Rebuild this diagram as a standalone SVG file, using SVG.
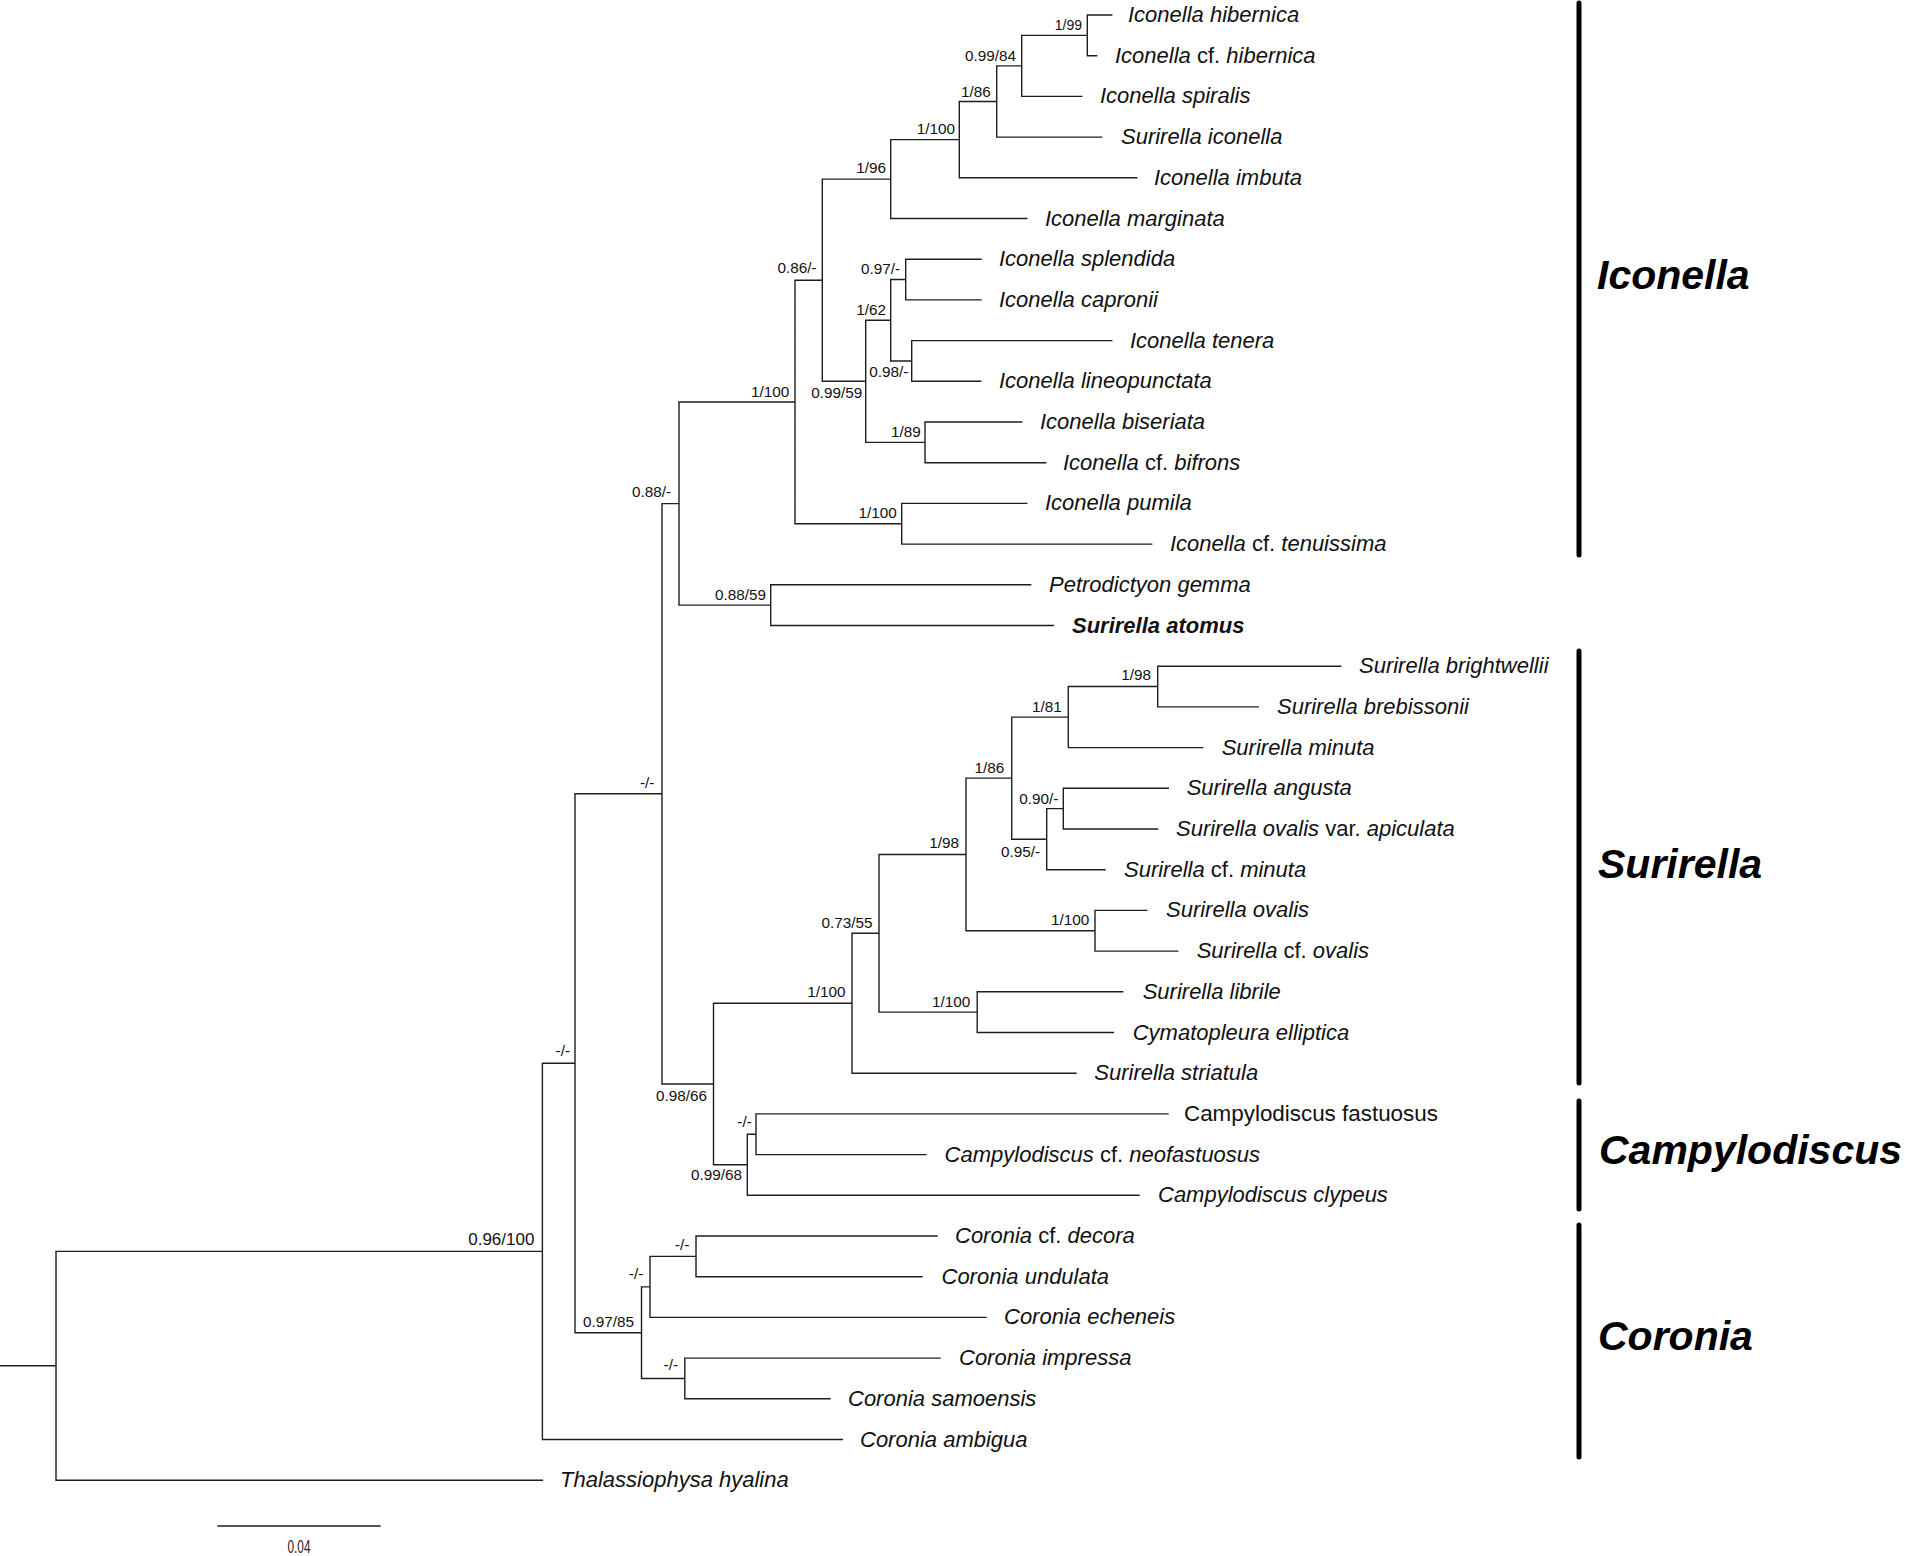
<svg xmlns="http://www.w3.org/2000/svg" width="1905" height="1556" viewBox="0 0 1905 1556">
<style>
.br{stroke:#1e1e1e;stroke-width:1.4;fill:none;stroke-linecap:square}
.lf{font-family:"Liberation Sans",Arial,sans-serif;font-size:22px;font-style:italic;fill:#111}
.lf .up{font-style:normal}
.bd{font-weight:bold}
.sp{font-family:"Liberation Sans",Arial,sans-serif;font-size:15.3px;fill:#111;text-anchor:end}
.cl{font-family:"Liberation Sans",Arial,sans-serif;font-size:41px;font-weight:bold;font-style:italic;fill:#000}
.bar{stroke:#000;stroke-width:5;stroke-linecap:round}
</style>
<rect width="1905" height="1556" fill="#fff"/>
<g id="connectors">
<path class="br" d="M0,1365.8H56 M56,1251.4V1480.2 M56,1251.4H542.4 M56,1480.2H542.4
M542.4,1063.25V1439.5 M542.4,1063.25H575 M542.4,1439.5H842.4
M575,793.8V1332.7 M575,793.8H662 M575,1332.7H641.5
M641.5,1286.9V1378.45 M641.5,1286.9H650 M641.5,1378.45H684.8
M650,1256.35V1317.4 M650,1256.35H696 M650,1317.4H986
M696,1236V1276.7 M696,1236H937 M696,1276.7H922
M684.8,1358.1V1398.8 M684.8,1358.1H940 M684.8,1398.8H830
M662,503.6V1084 M662,503.6H679 M662,1084H713.5
M713.5,1003.25V1164.78 M713.5,1003.25H852 M713.5,1164.78H747.3
M747.3,1134.25V1195.3 M747.3,1134.25H756 M747.3,1195.3H1139
M756,1113.9V1154.6 M756,1113.9H1168 M756,1154.6H926
M852,933.3V1073.2 M852,933.3H879 M852,1073.2H1076
M879,854.45V1012.15 M879,854.45H966 M879,1012.15H977.2
M977.2,991.8V1032.5 M977.2,991.8H1122.7 M977.2,1032.5H1113.3
M966,778.15V930.75 M966,778.15H1011.7 M966,930.75H1095
M1095,910.4V951.1 M1095,910.4H1146.7 M1095,951.1H1177.7
M1011.7,717.1V839.2 M1011.7,717.1H1068.3 M1011.7,839.2H1046.7
M1046.7,808.65V869.7 M1046.7,808.65H1063.3 M1046.7,869.7H1105
M1063.3,788.3V829 M1063.3,788.3H1168.3 M1063.3,829H1157.7
M1068.3,686.55V747.6 M1068.3,686.55H1157.7 M1068.3,747.6H1202.7
M1157.7,666.2V706.9 M1157.7,666.2H1340.7 M1157.7,706.9H1258.3
M679,401.98V605.15 M679,401.98H795 M679,605.15H770.7
M770.7,584.8V625.5 M770.7,584.8H1030.7 M770.7,625.5H1053.3
M795,280.2V523.75 M795,280.2H822.3 M795,523.75H901.7
M901.7,503.4V544.1 M901.7,503.4H1026.7 M901.7,544.1H1151.7
M822.3,179.1V381.3 M822.3,179.1H890.7 M822.3,381.3H865.7
M865.7,320.25V442.35 M865.7,320.25H890.7 M865.7,442.35H925
M925,422V462.7 M925,422H1021.7 M925,462.7H1045.7
M890.7,279.55V360.95 M890.7,279.55H905.7 M890.7,360.95H911.7
M905.7,259.2V299.9 M905.7,259.2H981 M905.7,299.9H981
M911.7,340.6V381.3 M911.7,340.6H1111.7 M911.7,381.3H980.7
M890.7,139.65V218.5 M890.7,139.65H959.3 M890.7,218.5H1026.7
M959.3,101.5V177.8 M959.3,101.5H996.7 M959.3,177.8H1136.7
M996.7,65.9V137.1 M996.7,65.9H1021.7 M996.7,137.1H1101.7
M1021.7,35.35V96.4 M1021.7,35.35H1087.3 M1021.7,96.4H1081.7
M1087.3,15V55.7 M1087.3,15H1111.7 M1087.3,55.7H1096.7"/>
</g>
<g id="support-values">
<text class="sp" x="1082" y="30" style="font-size:14px">1/99</text>
<text class="sp" x="1016" y="61">0.99/84</text>
<text class="sp" x="990.7" y="96.7">1/86</text>
<text class="sp" x="955" y="134">1/100</text>
<text class="sp" x="886" y="172.7">1/96</text>
<text class="sp" x="816.7" y="273.3">0.86/-</text>
<text class="sp" x="900" y="274">0.97/-</text>
<text class="sp" x="886" y="315">1/62</text>
<text class="sp" x="908.3" y="377">0.98/-</text>
<text class="sp" x="789.3" y="396.7">1/100</text>
<text class="sp" x="862.3" y="398.3">0.99/59</text>
<text class="sp" x="920.7" y="436.7">1/89</text>
<text class="sp" x="671" y="497.3">0.88/-</text>
<text class="sp" x="896.7" y="518.3">1/100</text>
<text class="sp" x="766" y="600">0.88/59</text>
<text class="sp" x="1151" y="680">1/98</text>
<text class="sp" x="1061.7" y="711.7">1/81</text>
<text class="sp" x="1004.3" y="773.3">1/86</text>
<text class="sp" x="654.4" y="788.3">-/-</text>
<text class="sp" x="1058.3" y="804">0.90/-</text>
<text class="sp" x="959" y="848.3">1/98</text>
<text class="sp" x="1040" y="856.7">0.95/-</text>
<text class="sp" x="1089.3" y="925">1/100</text>
<text class="sp" x="872.6" y="928.3">0.73/55</text>
<text class="sp" x="845.6" y="997.3">1/100</text>
<text class="sp" x="970.2" y="1006.7">1/100</text>
<text class="sp" x="570" y="1055.5">-/-</text>
<text class="sp" x="707" y="1100.7">0.98/66</text>
<text class="sp" x="751.8" y="1126.7">-/-</text>
<text class="sp" x="742" y="1180">0.99/68</text>
<text class="sp" x="534.4" y="1244.7" style="font-size:17px">0.96/100</text>
<text class="sp" x="689.3" y="1250">-/-</text>
<text class="sp" x="643.3" y="1279.3">-/-</text>
<text class="sp" x="634" y="1327">0.97/85</text>
<text class="sp" x="678" y="1370">-/-</text>
</g>
<g id="leaves">
<g id="leaf-00"><text class="lf" x="1128" y="22">Iconella hibernica</text></g>
<g id="leaf-01"><text class="lf" x="1115" y="62.7">Iconella <tspan class="up">cf.</tspan> hibernica</text></g>
<g id="leaf-02"><text class="lf" x="1100" y="103.4">Iconella spiralis</text></g>
<g id="leaf-03"><text class="lf" x="1121" y="144.1">Surirella iconella</text></g>
<g id="leaf-04"><text class="lf" x="1154" y="184.8">Iconella imbuta</text></g>
<g id="leaf-05"><text class="lf" x="1045" y="225.5">Iconella marginata</text></g>
<g id="leaf-06"><text class="lf" x="999" y="266.2">Iconella splendida</text></g>
<g id="leaf-07"><text class="lf" x="999" y="306.9">Iconella capronii</text></g>
<g id="leaf-08"><text class="lf" x="1130" y="347.6">Iconella tenera</text></g>
<g id="leaf-09"><text class="lf" x="999" y="388.3">Iconella lineopunctata</text></g>
<g id="leaf-10"><text class="lf" x="1040" y="429">Iconella biseriata</text></g>
<g id="leaf-11"><text class="lf" x="1063" y="469.7">Iconella <tspan class="up">cf.</tspan> bifrons</text></g>
<g id="leaf-12"><text class="lf" x="1045" y="510.4">Iconella pumila</text></g>
<g id="leaf-13"><text class="lf" x="1170" y="551.1">Iconella <tspan class="up">cf.</tspan> tenuissima</text></g>
<g id="leaf-14"><text class="lf" x="1049" y="591.8">Petrodictyon gemma</text></g>
<g id="leaf-15"><text class="lf bd" x="1072" y="632.5">Surirella atomus</text></g>
<g id="leaf-16"><text class="lf" x="1359" y="673.2">Surirella brightwellii</text></g>
<g id="leaf-17"><text class="lf" x="1277" y="713.9">Surirella brebissonii</text></g>
<g id="leaf-18"><text class="lf" x="1221.7" y="754.6">Surirella minuta</text></g>
<g id="leaf-19"><text class="lf" x="1186.7" y="795.3">Surirella angusta</text></g>
<g id="leaf-20"><text class="lf" x="1176" y="836">Surirella ovalis <tspan class="up">var.</tspan> apiculata</text></g>
<g id="leaf-21"><text class="lf" x="1124" y="876.7">Surirella <tspan class="up">cf.</tspan> minuta</text></g>
<g id="leaf-22"><text class="lf" x="1166" y="917.4">Surirella ovalis</text></g>
<g id="leaf-23"><text class="lf" x="1196.7" y="958.1">Surirella <tspan class="up">cf.</tspan> ovalis</text></g>
<g id="leaf-24"><text class="lf" x="1142.7" y="998.8">Surirella librile</text></g>
<g id="leaf-25"><text class="lf" x="1132.7" y="1039.5">Cymatopleura elliptica</text></g>
<g id="leaf-26"><text class="lf" x="1094.3" y="1080.2">Surirella striatula</text></g>
<g id="leaf-27"><text class="lf" x="1184" y="1120.9" style="font-style:normal;font-size:22.4px">Campylodiscus fastuosus</text></g>
<g id="leaf-28"><text class="lf" x="944.6" y="1161.6">Campylodiscus <tspan class="up">cf.</tspan> neofastuosus</text></g>
<g id="leaf-29"><text class="lf" x="1158" y="1202.3">Campylodiscus clypeus</text></g>
<g id="leaf-30"><text class="lf" x="955" y="1243">Coronia <tspan class="up">cf.</tspan> decora</text></g>
<g id="leaf-31"><text class="lf" x="941.5" y="1283.7">Coronia undulata</text></g>
<g id="leaf-32"><text class="lf" x="1004" y="1324.4">Coronia echeneis</text></g>
<g id="leaf-33"><text class="lf" x="959" y="1365.1">Coronia impressa</text></g>
<g id="leaf-34"><text class="lf" x="848" y="1405.8">Coronia samoensis</text></g>
<g id="leaf-35"><text class="lf" x="860" y="1446.5">Coronia ambigua</text></g>
<g id="leaf-36"><text class="lf" x="560" y="1487.2">Thalassiophysa hyalina</text></g>
</g>
<g id="clade-iconella"><line class="bar" x1="1579" y1="3" x2="1579" y2="555"/><text class="cl" x="1597" y="289">Iconella</text></g>
<g id="clade-surirella"><line class="bar" x1="1579" y1="651" x2="1579" y2="1083"/><text class="cl" x="1598" y="878">Surirella</text></g>
<g id="clade-campylodiscus"><line class="bar" x1="1579" y1="1101" x2="1579" y2="1209"/><text class="cl" x="1599" y="1164">Campylodiscus</text></g>
<g id="clade-coronia"><line class="bar" x1="1579" y1="1225" x2="1579" y2="1457"/><text class="cl" x="1598" y="1350">Coronia</text></g>
<g id="scale-bar"><line class="br" x1="218" y1="1526" x2="380" y2="1526"/><text transform="translate(299,1553) scale(0.62,1)" text-anchor="middle" style="font-family:'Liberation Sans',Arial,sans-serif;font-size:19px;fill:#222">0.04</text></g>
</svg>
